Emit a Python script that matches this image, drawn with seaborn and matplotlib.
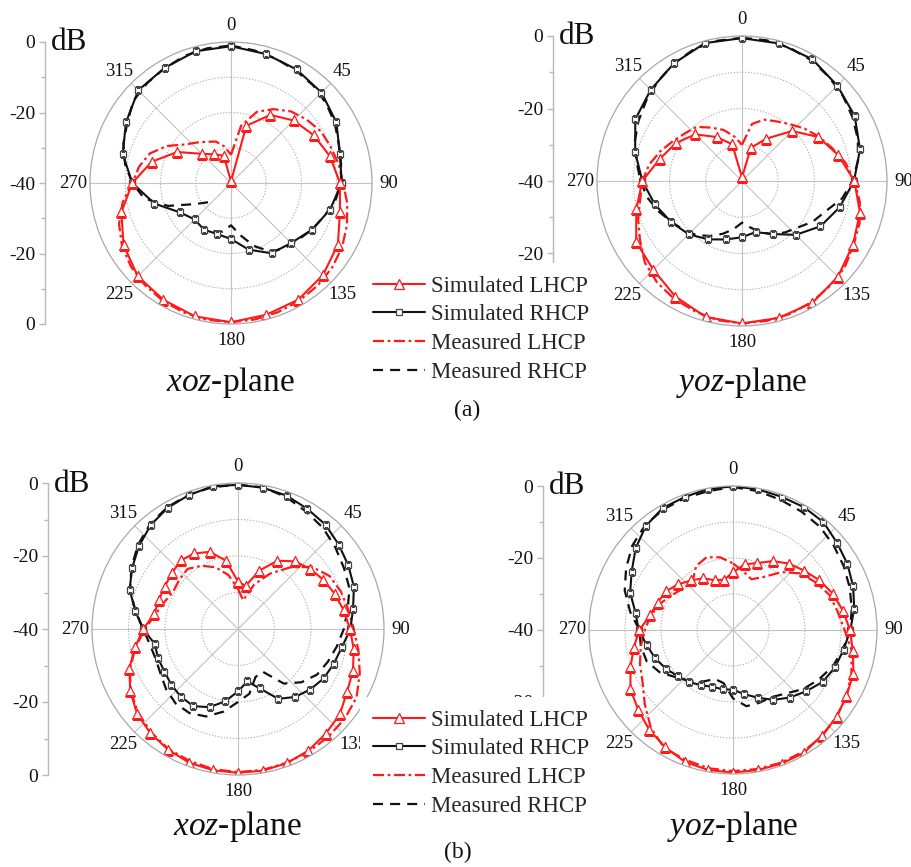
import numpy as np
import matplotlib
matplotlib.use("Agg")
import matplotlib.pyplot as plt
import seaborn as sns
from matplotlib.lines import Line2D

# ---------------- data (dB values) ----------------
THETA_SIM15 = list(range(0, 360, 15))   # simulated, panel (a)
THETA_SIM10 = list(range(0, 360, 10))   # simulated, panel (b)
THETA_MEAS = list(range(0, 360, 10))    # measured, all panels

# (a) xoz-plane
a_xoz_sim_rhcp = [-1.2, -2.1, -2.8, -3.7, -5.5, -8.0, -8.6, -10.9, -13.5, -15.9, -17.0, -20.4,
                  -24.1, -25.0, -24.7, -25.4, -23.3, -17.5, -12.0, -8.2, -5.6, -2.8, -2.3, -1.3]
a_xoz_sim_lhcp = [-39.5, -23.2, -17.7, -14.9, -12.9, -10.9, -9.1, -8.0, -5.0, -3.1, -1.8, -1.3,
                  -0.5, -0.8, -1.7, -2.6, -4.8, -7.8, -12.0, -16.7, -22.4, -28.3, -30.6, -32.0]
a_xoz_meas_lhcp = [-32.0, -23.5, -18.5, -15.8, -13.5, -12.0, -10.6, -9.9, -9.0, -8.2, -6.5, -5.0,
                   -3.6, -2.6, -1.9, -1.4, -1.0, -0.7, -0.5, -0.6, -0.9, -1.4, -2.1, -3.0,
                   -4.3, -6.2, -8.8, -12.0, -13.5, -15.5, -19.0, -23.0, -25.0, -26.5, -27.5, -29.5]
a_xoz_meas_rhcp = [-1.0, -1.8, -2.5, -3.2, -3.8, -4.8, -6.0, -7.5, -8.3, -8.8, -10.0, -12.0,
                   -13.5, -15.0, -16.0, -17.5, -21.0, -25.0, -28.0, -26.0, -25.5, np.nan, np.nan, -31.5,
                   -28.0, -21.0, -15.0, -12.0, -9.5, -7.5, -6.0, -3.8, -3.0, -2.4, -1.6, -1.2]

# (a) yoz-plane
a_yoz_sim_rhcp = [-0.6, -0.7, -1.2, -2.8, -4.1, -6.3, -9.1, -12.1, -15.0, -19.0, -23.1, -25.4,
                  -24.5, -23.3, -21.4, -19.2, -17.4, -15.1, -12.5, -9.5, -6.0, -4.4, -2.5, -0.6]
a_yoz_sim_lhcp = [-39.0, -30.5, -26.5, -20.5, -15.7, -12.5, -9.0, -6.3, -4.7, -2.6, -1.2, -0.9,
                  -0.7, -1.2, -3.2, -5.4, -6.3, -9.8, -12.5, -16.5, -19.0, -21.8, -26.0, -29.5]
a_yoz_meas_lhcp = [-30.0, -24.0, -22.0, -21.0, -19.5, -17.5, -15.5, -13.5, -11.0, -9.0, -7.0, -5.5,
                   -4.5, -3.0, -2.2, -1.5, -1.0, -0.8, -0.7, -1.0, -1.8, -2.5, -3.5, -5.0,
                   -7.5, -9.5, -11.5, -12.5, -14.0, -16.0, -18.0, -19.5, -20.5, -23.0, -25.0, -27.5]
a_yoz_meas_rhcp = [-0.5, -0.6, -1.0, -1.6, -2.6, -3.6, -4.8, -6.0, -7.5, -9.5, -12.0, -15.5,
                   -17.5, -20.0, -21.5, -23.0, -25.0, -27.0, -28.5, -26.5, -24.5, -22.5, -20.5, -19.0,
                   -17.5, -15.5, -13.5, -12.0, -10.5, -8.5, -7.0, -5.5, -4.0, -2.5, -1.3, -0.7]

# (b) xoz-plane
b_xoz_sim_rhcp = [-0.5, -0.7, -1.1, -2.0, -2.7, -4.0, -5.1, -6.2, -8.0, -9.2, -11.1, -12.1,
                  -12.9, -14.2, -15.7, -17.9, -22.7, -25.4, -22.9, -19.9, -17.2, -15.6, -15.7, -16.2,
                  -16.7, -16.7, -16.8, -14.0, -11.4, -8.4, -6.5, -4.6, -2.8, -1.6, -0.9, -0.3]
b_xoz_sim_lhcp = [-27.0, -28.0, -23.0, -18.4, -15.8, -14.3, -13.0, -11.8, -10.6, -9.3, -7.8, -6.5,
                  -5.5, -3.6, -2.6, -1.5, -0.9, -0.6, -0.6, -0.7, -1.0, -1.8, -2.7, -3.9,
                  -5.9, -8.3, -11.4, -14.0, -16.7, -16.9, -16.8, -16.3, -15.5, -16.1, -17.5, -21.0]
b_xoz_meas_lhcp = [-29.0, -32.0, -27.0, -22.5, -18.0, -13.5, -11.0, -10.0, -9.3, -8.3, -6.5, -4.5,
                   -2.5, -1.8, -1.5, -1.2, -1.0, -0.8, -0.8, -1.0, -1.5, -2.0, -3.0, -4.3,
                   -6.0, -8.5, -11.5, -14.5, -17.0, -18.5, -19.5, -19.0, -18.5, -20.0, -22.0, -25.0]
b_xoz_meas_rhcp = [-0.5, -0.6, -1.5, -2.8, -3.8, -5.2, -6.5, -7.5, -9.5, -11.0, -12.5, -13.8,
                   -15.0, -17.3, -20.5, -26.5, -26.0, -22.0, -20.0, -17.0, -14.5, -13.4, -13.4, -14.3,
                   -15.5, -16.0, -15.5, -14.0, -11.5, -8.5, -6.3, -4.2, -2.5, -1.4, -0.8, -0.5]

# (b) yoz-plane
b_yoz_sim_rhcp = [-0.1, -0.3, -0.6, -0.6, -0.9, -2.3, -3.3, -4.5, -5.8, -7.4, -8.8, -9.8,
                  -11.2, -13.5, -15.5, -17.6, -20.0, -21.9, -23.4, -23.3, -23.2, -22.3, -21.1, -20.0,
                  -18.5, -17.0, -15.7, -13.8, -12.5, -9.6, -7.5, -4.7, -2.3, -0.9, -0.7, -0.2]
b_yoz_sim_lhcp = [-24.0, -21.5, -20.2, -17.9, -15.9, -14.3, -12.3, -10.5, -9.0, -7.5, -6.2, -4.4,
                  -3.6, -2.4, -1.7, -0.6, -0.5, -0.5, -0.4, -0.5, -1.0, -2.4, -3.8, -5.6,
                  -7.1, -9.7, -12.0, -14.0, -16.6, -17.7, -18.5, -20.2, -22.0, -23.4, -25.3, -25.8]
b_yoz_meas_lhcp = [-21.5, -23.5, -25.0, -23.0, -19.0, -15.5, -13.5, -11.5, -10.5, -9.0, -6.5, -5.0,
                   -3.5, -2.5, -1.5, -1.0, -0.8, -0.8, -0.8, -1.0, -1.6, -2.0, -4.5, -8.0,
                   -11.0, -12.5, -14.0, -15.5, -16.8, -18.5, -20.5, -22.0, -22.5, -19.5, -18.5, -19.5]
b_yoz_meas_rhcp = [-0.3, -0.8, -1.5, -2.0, -2.5, -3.5, -4.5, -5.5, -6.5, -7.5, -9.0, -10.5,
                   -12.5, -14.5, -17.0, -18.5, -18.5, -18.5, -21.0, -25.0, -25.5, -23.5, -21.5, -19.5,
                   -16.5, -14.5, -14.0, -14.0, -11.0, -8.0, -5.7, -3.5, -2.0, -1.3, -1.0, -0.8]

ANGLE_TICKS = [0, 45, 90, 135, 180, 225, 270, 315]
ANGLE_LABELS = ["0", "45", "90", "135", "180", "225", "270", "315"]
RADIAL_TICK_POS = [40, 20, 0, -20, -40]
RADIAL_TICK_LABELS = ["0", "-20", "-40", "-20", "0"]
LEGEND_LABELS = ["Simulated LHCP", "Simulated RHCP", "Measured LHCP", "Measured RHCP"]
CAPTIONS = [r"$\mathit{xoz}$-plane", r"$\mathit{yoz}$-plane"]

# ---------------- style ----------------
W, H = 912, 867
sns.set_theme(style="white")
plt.rcParams["font.family"] = "serif"
plt.rcParams["font.serif"] = ["Liberation Serif", "DejaVu Serif"]
plt.rcParams["mathtext.fontset"] = "custom"
plt.rcParams["mathtext.it"] = "serif:italic"
plt.rcParams["mathtext.rm"] = "serif"

RED = "#ff1a1a"
BLACK = "#111111"
STY = {
    "sim_lhcp": dict(color=RED, lw=1.5, marker="^", markersize=6.5, markerfacecolor="white",
                     markeredgecolor=RED, markeredgewidth=0.9),
    "sim_rhcp": dict(color=BLACK, lw=1.5, marker="s", markersize=5, markerfacecolor="white",
                     markeredgecolor="#444444", markeredgewidth=0.9),
    "meas_lhcp": dict(color=RED, lw=1.6, dashes=(5, 1.6, 1.2, 1.6)),
    "meas_rhcp": dict(color=BLACK, lw=1.6, dashes=(4.5, 3.2)),
}

fig = plt.figure(figsize=(W / 100, H / 100), dpi=100)


def rect(cx, cy, r):
    return [(cx - r) / W, 1 - (cy + r) / H, 2 * r / W, 2 * r / H]


def draw_curve(ax, theta_deg, vals, sty):
    th = np.append(np.asarray(theta_deg, float), 360.0)
    v = np.append(np.asarray(vals, float), vals[0])
    ok = ~np.isnan(v)
    idx = np.flatnonzero(ok)
    segs = np.split(idx, np.flatnonzero(np.diff(idx) > 1) + 1)
    for s in segs:
        if len(s) < 2:
            continue
        sns.lineplot(x=np.deg2rad(th[s]), y=v[s], ax=ax, sort=False, estimator=None,
                     errorbar=None, **sty)


panels = [
    dict(cx=231, cy=183, r=141, axx=45, sim_t=THETA_SIM15,
         data=(a_xoz_sim_lhcp, a_xoz_sim_rhcp, a_xoz_meas_lhcp, a_xoz_meas_rhcp), cap=0, capy=382),
    dict(cx=742, cy=181, r=145, axx=553, sim_t=THETA_SIM15,
         data=(a_yoz_sim_lhcp, a_yoz_sim_rhcp, a_yoz_meas_lhcp, a_yoz_meas_rhcp), cap=1, capy=382),
    dict(cx=238, cy=629, r=146, axx=48, sim_t=THETA_SIM10,
         data=(b_xoz_sim_lhcp, b_xoz_sim_rhcp, b_xoz_meas_lhcp, b_xoz_meas_rhcp), cap=0, capy=826),
    dict(cx=733, cy=630, r=144, axx=543, sim_t=THETA_SIM10,
         data=(b_yoz_sim_lhcp, b_yoz_sim_rhcp, b_yoz_meas_lhcp, b_yoz_meas_rhcp), cap=1, capy=826),
]

for p in panels:
    cx, cy, r = p["cx"], p["cy"], p["r"]
    ax = fig.add_axes(rect(cx, cy, r), projection="polar")
    sim_l, sim_r, meas_l, meas_r = p["data"]
    draw_curve(ax, THETA_MEAS, meas_r, STY["meas_rhcp"])
    draw_curve(ax, THETA_MEAS, meas_l, STY["meas_lhcp"])
    draw_curve(ax, p["sim_t"], sim_r, STY["sim_rhcp"])
    draw_curve(ax, p["sim_t"], sim_l, STY["sim_lhcp"])
    ax.set_theta_zero_location("N")
    ax.set_theta_direction(-1)
    ax.set_ylim(-40, 0)
    ax.set_yticks([-30, -20, -10])
    ax.set_yticklabels([])
    ax.set_xticks(np.deg2rad(ANGLE_TICKS))
    ax.set_xticklabels(ANGLE_LABELS, fontsize=13.5, color="#111111")
    ax.tick_params(axis="x", length=0, pad=5)
    ax.xaxis.grid(True, color="#c4c4c4", lw=0.8, ls="-")
    ax.yaxis.grid(True, color="#b4b4b4", lw=0.8, ls=(0, (1.2, 1.5)))
    ax.spines["polar"].set_color("#a8a8a8")
    ax.spines["polar"].set_linewidth(0.9)
    ax.set_xlabel("")
    ax.set_ylabel("")
    ax.set_facecolor("white")

    rax = fig.add_axes([p["axx"] / W, 1 - (cy + r) / H, 0.0001, 2 * r / H])
    rax.set_ylim(-40, 40)
    rax.patch.set_visible(False)
    for s in ["top", "right", "bottom"]:
        rax.spines[s].set_visible(False)
    rax.spines["left"].set_color("#b8b8b8")
    rax.spines["left"].set_linewidth(1.0)
    rax.set_xticks([])
    rax.set_yticks(RADIAL_TICK_POS)
    rax.set_yticklabels(RADIAL_TICK_LABELS, fontsize=14, color="#111111")
    rax.set_yticks([30, 10, -10, -30], minor=True)
    rax.tick_params(axis="y", which="both", left=True, direction="out", color="#b8b8b8",
                    width=1.0, pad=3)
    rax.tick_params(axis="y", which="major", length=4)
    rax.tick_params(axis="y", which="minor", length=3)
    fig.text((p["axx"] + 6) / W, 1 - (cy - r + 1) / H, "dB", fontsize=22.5,
             ha="left", va="center", color="#111111")
    fig.text(cx / W, 1 - p["capy"] / H, CAPTIONS[p["cap"]], fontsize=24,
             ha="center", va="center", color="#111111")

fig.text(467 / W, 1 - 410 / H, "(a)", fontsize=17, ha="center", va="center", color="#111111")
fig.text(458 / W, 1 - 852 / H, "(b)", fontsize=17, ha="center", va="center", color="#111111")

handles = [
    Line2D([], [], **STY["sim_lhcp"]),
    Line2D([], [], **STY["sim_rhcp"]),
    Line2D([], [], **STY["meas_lhcp"]),
    Line2D([], [], **STY["meas_rhcp"]),
]
for top in (263, 697):
    fig.legend(handles, LEGEND_LABELS, loc="upper left", bbox_to_anchor=(360 / W, 1 - top / H),
               frameon=True, facecolor="white", edgecolor="none", framealpha=1.0,
               fontsize=16.5, handlelength=2.3, handletextpad=0.25, labelspacing=0.34,
               borderpad=0.55, borderaxespad=0.0, fancybox=False)

fig.savefig("out.png", dpi=100, facecolor="white")
